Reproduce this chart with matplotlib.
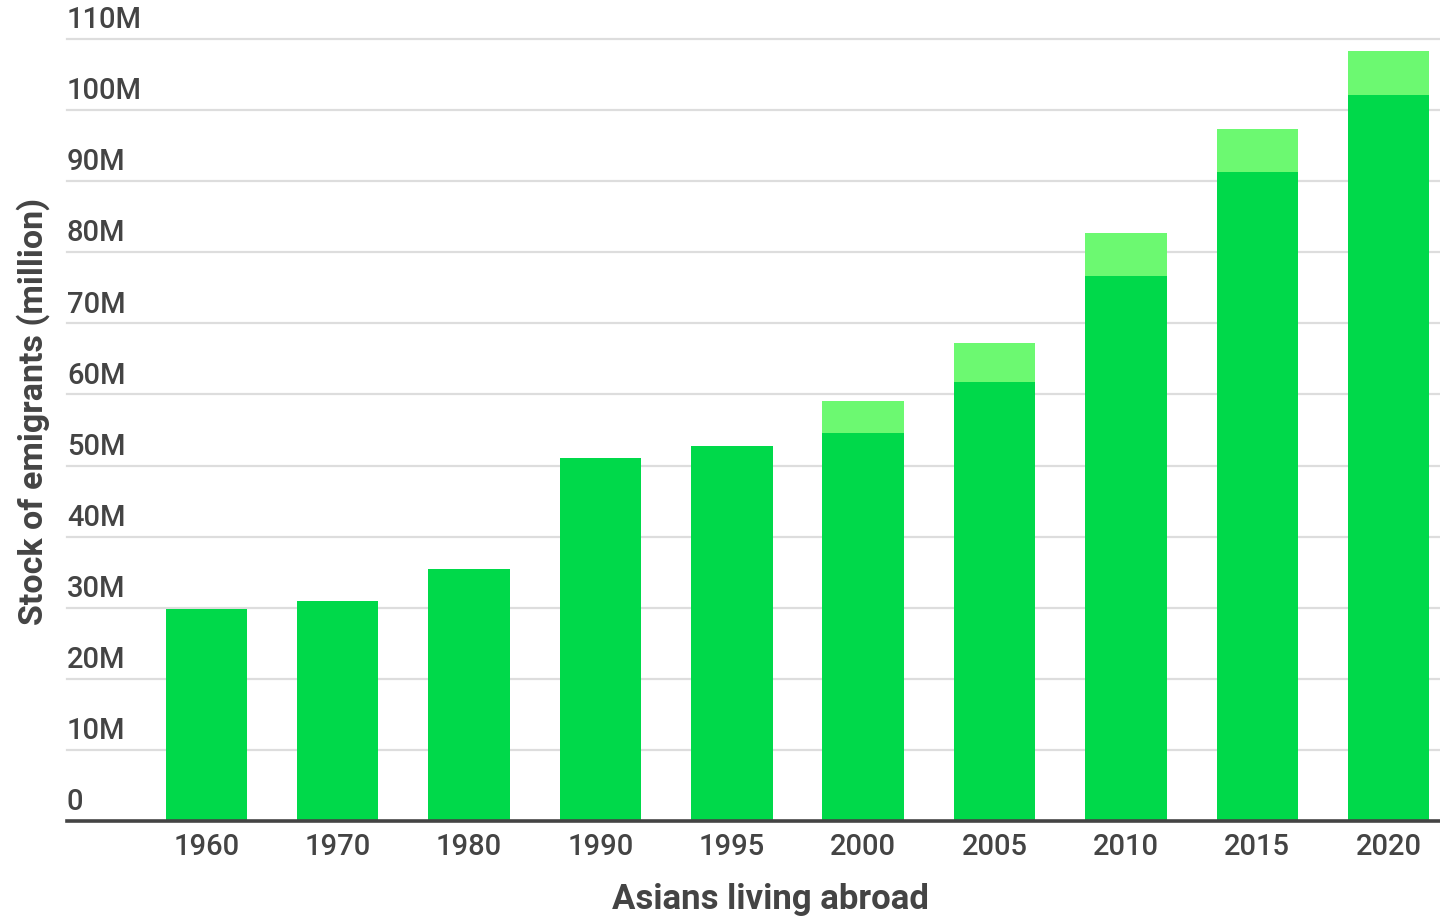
import matplotlib
matplotlib.use("Agg")
import matplotlib.pyplot as plt
import matplotlib.transforms as mtransforms

years = ["1960", "1970", "1980", "1990", "1995", "2000", "2005", "2010", "2015", "2020"]
base_values = [29.8, 30.9, 35.4, 51.1, 52.7, 54.6, 61.7, 76.7, 91.3, 102.1]
extra_values = [0, 0, 0, 0, 0, 4.5, 5.5, 6.0, 6.0, 6.2]
y_ticks = [0, 10, 20, 30, 40, 50, 60, 70, 80, 90, 100, 110]
y_tick_labels = ["0", "10M", "20M", "30M", "40M", "50M", "60M", "70M", "80M", "90M", "100M", "110M"]

plt.rcParams['font.family'] = ['Roboto', 'DejaVu Sans']

W, H = 1440, 917
fig = plt.figure(figsize=(W / 100, H / 100), dpi=100)
left_px, right_px, bottom_px, top_px = 67, 1440, 821, 39
ax = fig.add_axes([left_px / W, (H - bottom_px) / H, (right_px - left_px) / W, (bottom_px - top_px) / H])

x = list(range(len(years)))
dark = "#00D94A"
light = "#6CF971"
ax.bar(x, base_values, width=0.62, color=dark, zorder=3, linewidth=0)
ax.bar(x, extra_values, bottom=base_values, width=0.62, color=light, zorder=3, linewidth=0)

ax.set_xlim(-1.06, 9.39)
ax.set_ylim(0, 110)
for s in ax.spines.values():
    s.set_visible(False)
ax.axhline(0, color="#444444", linewidth=2.6, zorder=4, clip_on=False)
for v in y_ticks[1:]:
    ax.axhline(v, color="#DDDDDD", linewidth=1.6, zorder=1, clip_on=False)

ax.set_yticks([])
ax.set_xticks(x)
ax.set_xticklabels(years, fontsize=21, color="#444444", fontweight='medium')
ax.tick_params(axis='x', length=0, pad=8.5)

trans = mtransforms.blended_transform_factory(ax.transAxes, ax.transData)
trans = mtransforms.offset_copy(trans, fig=fig, x=0, y=3.5, units='points')
for v, lab in zip(y_ticks, y_tick_labels):
    ax.text(0, v, lab, transform=trans, ha='left', va='bottom', fontsize=21,
            color="#444444", fontweight='medium')

fig.text(770 / W, 1 - 900 / H, "Asians living abroad", ha='center', va='center',
         fontsize=25, fontweight='bold', color="#444444")
fig.text(33 / W, 1 - 411 / H, "Stock of emigrants (million)", ha='center', va='center',
         rotation=90, fontsize=24.5, fontweight='bold', color="#444444")

fig.savefig("out.png", dpi=100)
